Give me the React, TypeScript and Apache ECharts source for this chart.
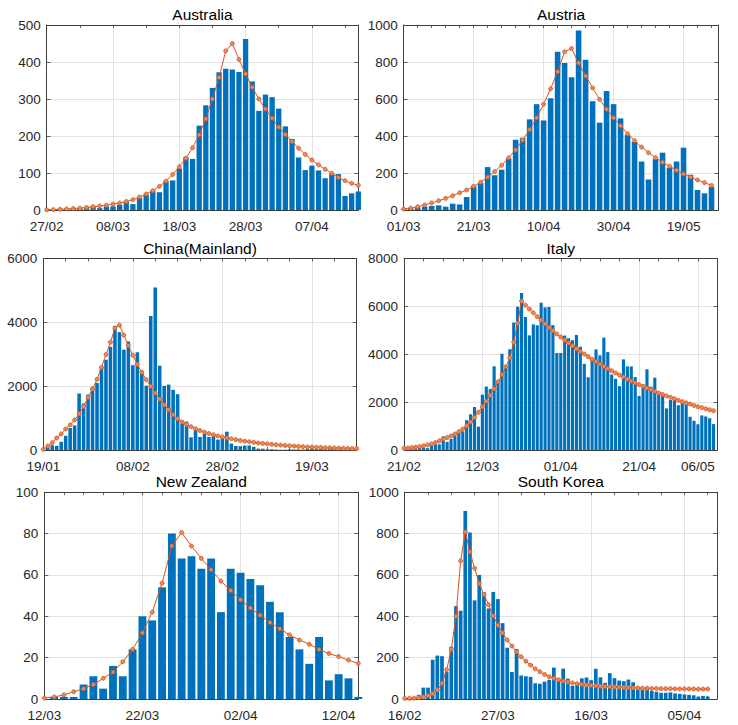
import { useEffect, useRef } from "react";
import * as echarts from "echarts";

const FONT = '"Liberation Sans", Arial, Helvetica, sans-serif';
const BAR_COLOR = "#0072BD";
const FIT_COLOR = "#D95319";
const AXIS_COLOR = "#404040";
const GRID_COLOR = "#e2e2e2";
const TEXT_COLOR = "#262626";

// Australia, daily values from 27/02
const australiaCases = [
  0, 0, 0, 2, 3, 5, 8, 8, 5, 10, 10, 14, 22, 16, 32, 42, 52, 48, 78, 80, 112, 143, 138, 228, 283, 330, 372,
  382, 380, 373, 462, 347, 268, 312, 305, 274, 226, 192, 142, 108, 120, 107, 86, 98, 97, 38, 45, 50,
];
const australiaFit = [
  0.5, 1, 2, 3, 4, 5, 7, 9, 11, 13, 16, 19, 23, 28, 35, 43, 52, 64, 78, 96, 117, 140, 168, 203, 246, 300, 358,
  430, 450, 407, 368, 332, 300, 273, 248, 224, 204, 185, 167, 150, 135, 122, 110, 99, 88, 79, 72, 67,
];
const australiaTicks = [0, 10, 20, 30, 40];
const australiaTickLabels = ["27/02", "08/03", "18/03", "28/03", "07/04"];

// Austria, one bar every two days from 01/03
const austriaCases = [
  5, 10, 14, 18, 22, 25, 18, 34, 30, 70, 128, 145, 232, 188, 218, 277, 380, 390, 490, 572, 484, 604, 855, 795,
  718, 970, 812, 588, 472, 643, 572, 495, 405, 368, 262, 165, 275, 310, 228, 262, 337, 190, 108, 90, 125,
];
const austriaFit = [
  5, 10, 18, 27, 38, 50, 63, 77, 93, 108, 128, 150, 178, 208, 242, 282, 325, 378, 435, 498, 572, 655, 748, 855,
  873, 795, 725, 660, 598, 545, 498, 455, 412, 375, 340, 310, 283, 258, 237, 215, 195, 178, 162, 148, 133,
];
const austriaTicks = [0, 10, 20, 30, 40];
const austriaTickLabels = ["01/03", "21/03", "10/04", "30/04", "19/05"];

// China (Mainland), daily values from 19/01
const chinaCases = [
  20, 77, 149, 131, 259, 444, 688, 769, 1771, 1459, 1737, 1982, 2102, 2590, 2829, 3235, 3887, 3694, 3143, 3399,
  2656, 3062, 2478, 2015, 4200, 5090, 2641, 2009, 2048, 1886, 1749, 820, 889, 397, 648, 409, 508, 406, 433, 327,
  427, 573, 202, 125, 119, 139, 143, 99, 44, 40, 19, 24, 15, 8, 11, 20, 16, 21, 13, 34, 39, 41, 46, 39, 78, 47,
  67, 55, 54, 45, 31,
];
const chinaFit = [
  20, 126, 230, 378, 504, 661, 787, 944, 1133, 1364, 1647, 1910, 2214, 2592, 2990, 3378, 3819, 3913, 3598, 3273,
  2969, 2686, 2434, 2203, 1994, 1784, 1595, 1416, 1259, 1102, 976, 880, 800, 730, 665, 610, 560, 515, 475, 440,
  410, 380, 350, 325, 300, 278, 258, 240, 222, 207, 192, 178, 165, 153, 142, 132, 122, 113, 105, 98, 91, 85, 79,
  73, 68, 63, 59, 55, 51, 48, 45,
];
const chinaTicks = [0, 20, 40, 60];
const chinaTickLabels = ["19/01", "08/02", "28/02", "19/03"];

// Italy, daily values from 21/02
const italyCases = [
  0, 14, 62, 53, 97, 93, 78, 250, 238, 240, 566, 342, 466, 587, 769, 778, 1247, 1492, 1797, 977, 2313, 2651,
  2547, 3497, 2850, 4020, 3526, 4207, 5322, 5986, 6557, 5560, 4789, 5249, 5210, 6153, 5959, 5974, 5217, 4050,
  4053, 4782, 4668, 4585, 4805, 4316, 3599, 3039, 3836, 4204, 3951, 4694, 4092, 3153, 2972, 2667, 3786, 3493,
  3491, 3047, 2256, 2729, 3370, 2646, 3021, 2357, 2324, 1739, 2091, 2086, 1872, 1965, 1900, 1389, 1221, 1075,
  1444, 1401, 1327, 1083,
];
const italyFit = [
  69, 83, 100, 120, 145, 175, 210, 255, 310, 380, 458, 520, 590, 670, 765, 875, 1010, 1170, 1360, 1580, 1806,
  2040, 2290, 2560, 2850, 3150, 3480, 3850, 4500, 5300, 6220, 6050, 5890, 5730, 5570, 5420, 5270, 5120, 4980,
  4850, 4720, 4590, 4470, 4350, 4230, 4120, 4010, 3900, 3790, 3690, 3590, 3490, 3400, 3310, 3220, 3130, 3050,
  2960, 2880, 2810, 2730, 2660, 2590, 2520, 2450, 2380, 2320, 2260, 2200, 2140, 2080, 2020, 1970, 1920, 1860,
  1810, 1770, 1720, 1680, 1640,
];
const italyTicks = [0, 20, 40, 60, 75];
const italyTickLabels = ["21/02", "12/03", "01/04", "21/04", "06/05"];

// New Zealand, daily values from 12/03
const newZealandCases = [
  0, 1, 1, 1, 7, 11, 5, 16, 11, 24, 40, 38, 54, 80, 68, 69, 63, 68, 42, 63, 61, 58, 55, 47, 42, 30, 24, 17, 30,
  9, 12, 10, 1,
];
const newZealandFit = [
  0.5, 1, 2, 3.5, 5, 7, 10, 13, 18, 24, 32, 42, 56, 74, 80.5, 74, 68, 62.5, 57, 52.5, 48, 44, 40.5, 37, 34, 31,
  28.5, 26.5, 24, 22, 20.5, 18.8, 17.2,
];
const newZealandTicks = [0, 10, 20, 30];
const newZealandTickLabels = ["12/03", "22/03", "02/04", "12/04"];

// South Korea, daily values from 16/02
const southKoreaCases = [
  0, 1, 1, 20, 55, 55, 190, 210, 207, 130, 253, 449, 427, 909, 805, 477, 600, 516, 438, 518, 483, 367, 248, 131,
  242, 114, 110, 107, 76, 74, 84, 93, 152, 87, 147, 98, 64, 76, 100, 104, 91, 146, 105, 78, 125, 101, 89, 86, 94,
  81, 47, 47, 53, 39, 35, 30, 30, 32, 27, 25, 22, 20, 18, 12, 15, 12,
];
const southKoreaFit = [
  3, 3, 4, 6, 10, 16, 26, 44, 76, 142, 240, 400, 668, 808, 712, 632, 558, 505, 456, 402, 357, 320, 285, 256, 228,
  204, 183, 164, 146, 132, 119, 108, 100, 93, 87, 82, 78, 74, 71, 68, 66, 64, 62, 60, 59, 58, 57, 56, 55, 54, 53,
  52, 52, 51, 51, 50, 50, 50, 49, 49, 49, 49, 49, 48, 48, 48,
];
const southKoreaTicks = [0, 20, 40, 60];
const southKoreaTickLabels = ["16/02", "27/03", "16/03", "05/04"];

type Panel = {
  title: string;
  cases: number[];
  fit: number[];
  slots: number;
  ticks: number[];
  tickLabels: string[];
  minorStep: number;
  yMax: number;
  yStep: number;
  box: [number, number, number, number];
};

const panels: Panel[] = [
  {
    title: "Australia",
    cases: australiaCases,
    fit: australiaFit,
    slots: 48,
    ticks: australiaTicks,
    tickLabels: australiaTickLabels,
    minorStep: 5,
    yMax: 500,
    yStep: 100,
    box: [46.7, 25, 358.3, 210],
  },
  {
    title: "Austria",
    cases: austriaCases,
    fit: austriaFit,
    slots: 46,
    ticks: austriaTicks,
    tickLabels: austriaTickLabels,
    minorStep: 2,
    yMax: 1000,
    yStep: 200,
    box: [403.7, 25, 718.5, 210],
  },
  {
    title: "China(Mainland)",
    cases: chinaCases,
    fit: chinaFit,
    slots: 71,
    ticks: chinaTicks,
    tickLabels: chinaTickLabels,
    minorStep: 5,
    yMax: 6000,
    yStep: 2000,
    box: [43.3, 258.5, 356.7, 450],
  },
  {
    title: "Italy",
    cases: italyCases,
    fit: italyFit,
    slots: 81,
    ticks: italyTicks,
    tickLabels: italyTickLabels,
    minorStep: 5,
    yMax: 8000,
    yStep: 2000,
    box: [404, 258.5, 717.5, 450],
  },
  {
    title: "New Zealand",
    cases: newZealandCases,
    fit: newZealandFit,
    slots: 33,
    ticks: newZealandTicks,
    tickLabels: newZealandTickLabels,
    minorStep: 2,
    yMax: 100,
    yStep: 20,
    box: [44.3, 492.2, 358.3, 699],
  },
  {
    title: "South Korea",
    cases: southKoreaCases,
    fit: southKoreaFit,
    slots: 68,
    ticks: southKoreaTicks,
    tickLabels: southKoreaTickLabels,
    minorStep: 5,
    yMax: 1000,
    yStep: 200,
    box: [404.7, 492.2, 717, 699],
  },
];

export default function App() {
  const chartRef = useRef<HTMLDivElement>(null);

  useEffect(() => {
    if (!chartRef.current) return;
    const chart = echarts.init(chartRef.current, null, { renderer: "svg" });

    const xAxis = panels.flatMap((p, i) => {
      const days = Array.from({ length: p.slots }, (_, d) => String(d));
      const isMajor = (idx: number) => p.ticks.includes(idx);
      const isTick = (idx: number) => idx % p.minorStep === 0 || isMajor(idx);
      const base = {
        type: "category" as const,
        gridIndex: i,
        data: days,
        boundaryGap: false,
        axisLine: { show: true, onZero: false, lineStyle: { color: AXIS_COLOR, width: 1 } },
        axisTick: {
          show: true,
          inside: true,
          length: 3,
          interval: (idx: number) => isTick(idx),
          lineStyle: { color: AXIS_COLOR, width: 0.8 },
        },
      };
      return [
        {
          ...base,
          position: "bottom" as const,
          axisLabel: {
            show: true,
            interval: (idx: number) => isMajor(idx),
            formatter: (value: string) => {
              const k = p.ticks.indexOf(Number(value));
              return k >= 0 ? p.tickLabels[k] : "";
            },
            margin: 9,
            fontSize: 13.5,
            fontFamily: FONT,
            color: TEXT_COLOR,
          },
          splitLine: {
            show: true,
            interval: (idx: number) => isMajor(idx),
            lineStyle: { color: GRID_COLOR, width: 1 },
          },
        },
        {
          ...base,
          position: "top" as const,
          axisLabel: { show: false },
          splitLine: { show: false },
        },
      ];
    });

    const yAxis = panels.flatMap((p, i) => {
      const base = {
        type: "value" as const,
        gridIndex: i,
        min: 0,
        max: p.yMax,
        interval: p.yStep,
        axisLine: { show: true, onZero: false, lineStyle: { color: AXIS_COLOR, width: 1 } },
        axisTick: { show: true, inside: true, length: 4, lineStyle: { color: AXIS_COLOR, width: 0.8 } },
      };
      return [
        {
          ...base,
          position: "left" as const,
          axisLabel: {
            show: true,
            margin: 6,
            fontSize: 13.5,
            fontFamily: FONT,
            color: TEXT_COLOR,
            formatter: (value: number) => String(value),
          },
          splitLine: { show: true, lineStyle: { color: GRID_COLOR, width: 1 } },
        },
        {
          ...base,
          position: "right" as const,
          axisLabel: { show: false },
          splitLine: { show: false },
        },
      ];
    });

    const series = panels.flatMap((p, i) => [
      {
        name: p.title + " cases",
        type: "bar" as const,
        xAxisIndex: i * 2,
        yAxisIndex: i * 2,
        data: p.cases,
        barWidth: "80%",
        clip: true,
        itemStyle: { color: BAR_COLOR },
        z: 2,
      },
      {
        name: p.title + " fit",
        type: "line" as const,
        xAxisIndex: i * 2,
        yAxisIndex: i * 2,
        data: p.fit,
        symbol: "circle",
        symbolSize: 4,
        showSymbol: true,
        showAllSymbol: true,
        clip: true,
        lineStyle: { color: FIT_COLOR, width: 1 },
        itemStyle: { color: "#e58a5e", borderColor: FIT_COLOR, borderWidth: 0.8 },
        z: 3,
      },
    ]);

    chart.setOption({
      animation: false,
      backgroundColor: "#ffffff",
      textStyle: { fontFamily: FONT },
      grid: panels.map((p) => ({
        left: p.box[0],
        top: p.box[1],
        width: p.box[2] - p.box[0],
        height: p.box[3] - p.box[1],
      })),
      xAxis,
      yAxis,
      series,
      graphic: {
        elements: panels.map((p) => ({
          type: "text",
          x: (p.box[0] + p.box[2]) / 2,
          y: p.box[1] - 10.5,
          style: {
            text: p.title,
            fontSize: 15.5,
            fontFamily: FONT,
            fill: "#000000",
            align: "center",
            verticalAlign: "middle",
          },
        })),
      },
    });

    return () => {
      chart.dispose();
    };
  }, []);

  return (
    <div
      ref={chartRef}
      style={{ position: "absolute", left: 0, top: 0, width: 738, height: 725, background: "#ffffff" }}
    />
  );
}
